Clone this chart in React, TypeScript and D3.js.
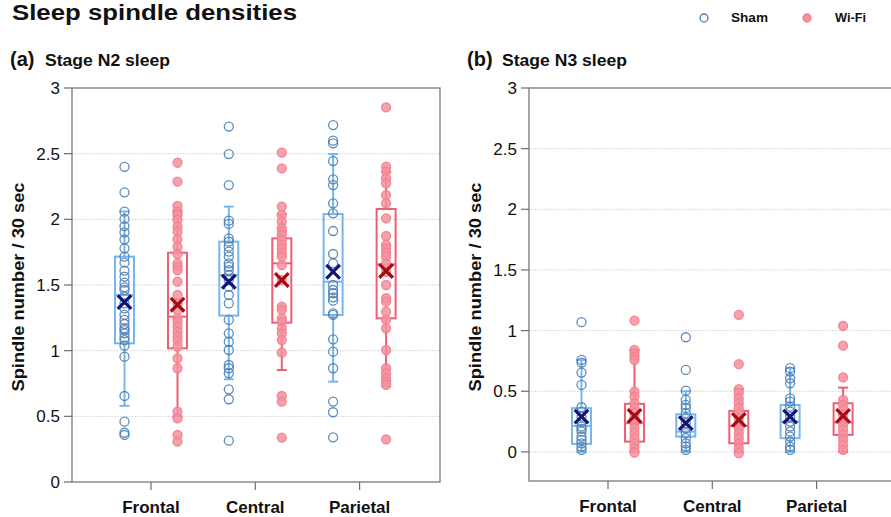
import React from "react";
import * as d3 from "d3";

const categories = ["Frontal", "Central", "Parietal"];
const groups = ["Sham", "Wi-Fi"];
const yTicksN2 = [0, 0.5, 1, 1.5, 2, 2.5, 3];
const yTicksN3 = [0, 0.5, 1, 1.5, 2, 2.5, 3];

// Points, per category (Frontal, Central, Parietal)
const n2ShamPoints = [
  [2.4, 2.206, 2.058, 2.003, 1.949, 1.901, 1.848, 1.779, 1.716, 1.67, 1.609, 1.563, 1.518, 1.482, 1.462, 1.411, 1.36, 1.322, 1.272, 1.234, 1.203, 1.17, 1.157, 1.132, 1.101, 1.081, 1.038, 0.954, 0.655, 0.459, 0.375, 0.358],
  [2.706, 2.497, 2.261, 1.99, 1.965, 1.855, 1.83, 1.792, 1.754, 1.716, 1.665, 1.64, 1.614, 1.576, 1.538, 1.487, 1.424, 1.36, 1.234, 1.132, 1.068, 1.005, 0.891, 0.866, 0.828, 0.706, 0.63, 0.315],
  [2.718, 2.599, 2.579, 2.444, 2.305, 2.261, 2.122, 2.046, 1.911, 1.736, 1.665, 1.5, 1.462, 1.437, 1.406, 1.381, 1.284, 1.272, 1.086, 0.992, 0.866, 0.612, 0.531, 0.34],
];
const n2WifiPoints = [
  [2.431, 2.287, 2.102, 2.058, 2.033, 1.995, 1.944, 1.906, 1.848, 1.792, 1.736, 1.665, 1.64, 1.614, 1.525, 1.424, 1.36, 1.31, 1.246, 1.221, 1.183, 1.144, 1.106, 1.076, 1.03, 0.942, 0.866, 0.535, 0.485, 0.358, 0.307],
  [2.508, 2.388, 2.097, 2.033, 1.982, 1.932, 1.906, 1.881, 1.843, 1.805, 1.779, 1.741, 1.716, 1.652, 1.538, 1.335, 1.31, 1.246, 1.221, 1.17, 1.132, 1.081, 0.985, 0.655, 0.612, 0.338],
  [2.853, 2.401, 2.363, 2.312, 2.274, 2.185, 2.122, 2.008, 1.873, 1.805, 1.779, 1.746, 1.716, 1.665, 1.601, 1.5, 1.399, 1.373, 1.297, 1.234, 1.17, 1.005, 0.866, 0.828, 0.79, 0.764, 0.739, 0.325],
];
const n3ShamPoints = [
  [1.069, 0.758, 0.736, 0.654, 0.552, 0.368, 0.332, 0.291, 0.25, 0.209, 0.19, 0.167, 0.126, 0.099, 0.071, 0.044, 0.016],
  [0.945, 0.676, 0.505, 0.429, 0.387, 0.36, 0.319, 0.278, 0.237, 0.195, 0.154, 0.113, 0.071, 0.044, 0.016],
  [0.69, 0.662, 0.607, 0.566, 0.442, 0.415, 0.373, 0.332, 0.291, 0.25, 0.209, 0.167, 0.126, 0.085, 0.044, 0.016],
];
const n3WifiPoints = [
  [1.082, 0.841, 0.813, 0.786, 0.758, 0.497, 0.456, 0.401, 0.36, 0.319, 0.278, 0.237, 0.195, 0.154, 0.113, 0.071, 0.03, -0.005],
  [1.129, 0.723, 0.517, 0.484, 0.442, 0.401, 0.36, 0.319, 0.278, 0.237, 0.195, 0.154, 0.113, 0.071, 0.03, -0.011],
  [1.038, 0.876, 0.615, 0.429, 0.387, 0.346, 0.305, 0.264, 0.223, 0.181, 0.14, 0.099, 0.058, 0.016],
];

// Box stats per category: [whiskerLow, q1, median, q3, whiskerHigh, mean]
const n2ShamBox = [
  [0.58, 1.056, 1.424, 1.716, 2.06, 1.37],
  [0.782, 1.267, 1.576, 1.83, 2.097, 1.525],
  [0.764, 1.272, 1.525, 2.04, 2.497, 1.601],
];
const n2WifiBox = [
  [0.5, 1.018, 1.259, 1.746, 2.063, 1.35],
  [0.853, 1.213, 1.665, 1.855, 2.038, 1.538],
  [0.73, 1.246, 1.657, 2.079, 2.36, 1.607],
];
const n3ShamBox = [
  [0.0, 0.066, 0.214, 0.36, 0.758, 0.291],
  [0.0, 0.126, 0.167, 0.31, 0.5, 0.237],
  [0.0, 0.113, 0.25, 0.387, 0.69, 0.291],
];
const n3WifiBox = [
  [0.0, 0.085, 0.237, 0.396, 0.84, 0.297],
  [0.0, 0.071, 0.214, 0.338, 0.52, 0.264],
  [0.0, 0.14, 0.242, 0.401, 0.53, 0.297],
];

const FONT = "'Liberation Sans', Arial, Helvetica, sans-serif";
const AXIS = "#6e6e6e";
const styles = {
  Sham: { box: "#76b6ee", pt: "#4d7fb3", ptFill: "none", mean: "#13137a" },
  "Wi-Fi": { box: "#ef5f73", pt: "#f27e8d", ptFill: "#f5929e", mean: "#a30d12" },
};

type PanelProps = {
  left: number; top: number; width: number; bottom: number;
  yDomain: [number, number]; ticks: number[];
  sham: number[][]; wifi: number[][]; shamBox: number[][]; wifiBox: number[][];
  letter: string; title: string; gridZero: boolean;
};

function Panel(p: PanelProps) {
  const y = d3.scaleLinear().domain(p.yDomain).range([p.bottom, p.top]);
  const x = d3.scalePoint<string>().domain(categories).range([p.left + 79, p.left + 79 + 2 * 104.3]);
  const off = d3.scalePoint<string>().domain(groups).range([-26.5, 26.5]);
  const bw = 19;
  const data: Record<string, { pts: number[][]; box: number[][] }> = {
    Sham: { pts: p.sham, box: p.shamBox },
    "Wi-Fi": { pts: p.wifi, box: p.wifiBox },
  };
  return (
    <g>
      {p.ticks.filter((t) => t > 0 || p.gridZero).filter((t) => t < 3).map((t) => (
        <line key={"g" + t} x1={p.left} x2={p.left + p.width} y1={y(t)} y2={y(t)}
          stroke="#cfcfcf" strokeWidth={1} strokeDasharray="1.5,1.5" />
      ))}
      <rect x={p.left} y={p.top} width={p.width} height={p.bottom - p.top} fill="none" stroke={AXIS} strokeWidth={1.2} />
      {p.ticks.map((t) => (
        <g key={"t" + t}>
          <line x1={p.left - 8} x2={p.left} y1={y(t)} y2={y(t)} stroke={AXIS} strokeWidth={1.2} />
          <text x={p.left - 12} y={y(t)} dy="0.36em" textAnchor="end" fontSize={17} fill="#111" fontFamily={FONT}>{t}</text>
        </g>
      ))}
      {categories.map((c) => (
        <g key={"x" + c}>
          <line x1={x(c)} x2={x(c)} y1={p.bottom} y2={p.bottom + 8} stroke={AXIS} strokeWidth={1.2} />
          <text x={x(c)} y={p.bottom + 31} textAnchor="middle" fontSize={17} fontWeight="bold" fill="#111" fontFamily={FONT}>{c}</text>
        </g>
      ))}
      {groups.map((g) =>
        categories.map((c, i) => {
          const cx = (x(c) as number) + (off(g) as number);
          const [lo, q1, med, q3, hi] = data[g].box[i];
          const st = (styles as any)[g];
          return (
            <g key={g + c}>
              <line x1={cx} x2={cx} y1={y(hi)} y2={y(q3)} stroke={st.box} strokeWidth={2} />
              <line x1={cx} x2={cx} y1={y(q1)} y2={y(lo)} stroke={st.box} strokeWidth={2} />
              <line x1={cx - 5} x2={cx + 5} y1={y(hi)} y2={y(hi)} stroke={st.box} strokeWidth={2} />
              <line x1={cx - 5} x2={cx + 5} y1={y(lo)} y2={y(lo)} stroke={st.box} strokeWidth={2} />
              <rect x={cx - bw / 2} y={y(q3)} width={bw} height={y(q1) - y(q3)} fill="none" stroke={st.box} strokeWidth={2} />
              <line x1={cx - bw / 2} x2={cx + bw / 2} y1={y(med)} y2={y(med)} stroke={st.box} strokeWidth={2} />
            </g>
          );
        })
      )}
      {groups.map((g) =>
        categories.map((c, i) => {
          const cx = (x(c) as number) + (off(g) as number);
          const st = (styles as any)[g];
          return (
            <g key={"p" + g + c}>
              {data[g].pts[i].map((v, j) => (
                <circle key={j} cx={cx} cy={y(v)} r={4.5} fill={st.ptFill} fillOpacity={0.85}
                  stroke={st.pt} strokeWidth={1.3} strokeOpacity={0.9} />
              ))}
            </g>
          );
        })
      )}
      {groups.map((g) =>
        categories.map((c, i) => {
          const cx = (x(c) as number) + (off(g) as number);
          const my = y(data[g].box[i][5]);
          const st = (styles as any)[g];
          const s = 6.8;
          return (
            <path key={"m" + g + c} d={`M${cx - s},${my - s}L${cx + s},${my + s}M${cx - s},${my + s}L${cx + s},${my - s}`}
              stroke={st.mean} strokeWidth={3.2} fill="none" />
          );
        })
      )}
      <text x={p.left - 62} y={66} fontSize={20} fontWeight="bold" fill="#111" fontFamily={FONT}>{p.letter}</text>
      <text x={p.left - 27} y={66} fontSize={17} fontWeight="bold" fill="#111" fontFamily={FONT} textLength={125} lengthAdjust="spacingAndGlyphs">{p.title}</text>
      <text transform={`translate(${p.left - 48},${287}) rotate(-90)`} textAnchor="middle" fontSize={17} fontWeight="bold"
        fill="#111" fontFamily={FONT} textLength={209} lengthAdjust="spacingAndGlyphs">Spindle number / 30 sec</text>
    </g>
  );
}

export default function App() {
  return (
    <svg width={891} height={517} style={{ position: "absolute", left: 0, top: 0, background: "#fff" }} fontFamily={FONT}>
      <rect width={891} height={517} fill="#fff" />
      <text x={12} y={20} fontSize={22} fontWeight="bold" fill="#111" textLength={285} lengthAdjust="spacingAndGlyphs">Sleep spindle densities</text>
      <circle cx={704} cy={18} r={4} fill="none" stroke={styles.Sham.pt} strokeWidth={1.3} />
      <text x={731} y={22} fontSize={12} fontWeight="bold" fill="#111" textLength={37} lengthAdjust="spacingAndGlyphs">Sham</text>
      <circle cx={807} cy={18} r={4} fill={styles["Wi-Fi"].ptFill} stroke={styles["Wi-Fi"].pt} strokeWidth={1.3} />
      <text x={835} y={22} fontSize={12} fontWeight="bold" fill="#111" textLength={31} lengthAdjust="spacingAndGlyphs">Wi-Fi</text>
      <Panel left={72} top={88} width={368} bottom={482} yDomain={[0, 3]} ticks={yTicksN2}
        sham={n2ShamPoints} wifi={n2WifiPoints} shamBox={n2ShamBox} wifiBox={n2WifiBox}
        letter="(a)" title="Stage N2 sleep" gridZero={false} />
      <Panel left={529} top={88} width={368} bottom={481} yDomain={[-0.24, 3]} ticks={yTicksN3}
        sham={n3ShamPoints} wifi={n3WifiPoints} shamBox={n3ShamBox} wifiBox={n3WifiBox}
        letter="(b)" title="Stage N3 sleep" gridZero={true} />
    </svg>
  );
}
